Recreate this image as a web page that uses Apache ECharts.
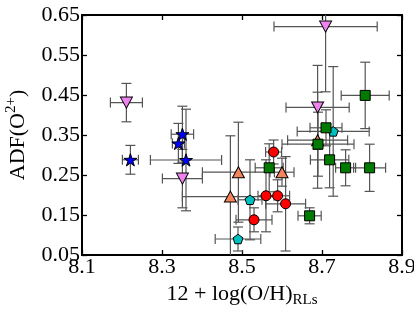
<!DOCTYPE html>
<html>
<head>
<meta charset="utf-8">
<script src="https://cdn.jsdelivr.net/npm/echarts@6/dist/echarts.min.js"></script>
<style>
html,body{margin:0;padding:0;background:#fff;}
#c{width:414px;height:311px;}
</style>
</head>
<body>
<div id="c"></div>
<script>
// ---- axis ticks ----
const xTicks = [8.1, 8.3, 8.5, 8.7, 8.9];
const yTicks = [0.05, 0.15, 0.25, 0.35, 0.45, 0.55, 0.65];

// ---- violet down-triangles ----
const violetX = [8.211, 8.351, 8.709, 8.689];
const violetY = [0.431, 0.241, 0.621, 0.419];
const violetXErr = [0.04, 0.05, 0.129, 0.079];
const violetYErr = [0.048, 0.073, 0.163, 0.105];

// ---- blue stars ----
const starX = [8.221, 8.351, 8.341, 8.36];
const starY = [0.288, 0.352, 0.329, 0.2875];
const starXErr = [0.02, 0.028, 0.015, 0.089];
const starYErr = [0.036, 0.07, 0.05, 0.127];

// ---- orange up-triangles ----
const orangeX = [8.491, 8.471, 8.60, 8.689];
const orangeY = [0.257, 0.196, 0.257, 0.337];
const orangeXErr = [0.09, 0.12, 0.03, 0.075];
const orangeYErr = [0.125, 0.152, 0.035, 0.12];

// ---- red circles ----
const redX = [8.579, 8.56, 8.589, 8.609, 8.53];
const redY = [0.3075, 0.198, 0.198, 0.178, 0.138];
const redXErr = [0.02, 0.02, 0.03, 0.05, 0.045];
const redYErr = [0.03, 0.09, 0.04, 0.118, 0.03];

// ---- cyan pentagons ----
const cyanX = [8.52, 8.49, 8.728];
const cyanY = [0.188, 0.09, 0.359];
const cyanXErr = [0.03, 0.057, 0.09];
const cyanYErr = [0.1, 0.03, 0.162];

// ---- green squares ----
const greenX = [8.568, 8.71, 8.69, 8.719, 8.759, 8.819, 8.808, 8.669];
const greenY = [0.268, 0.368, 0.327, 0.288, 0.268, 0.268, 0.449, 0.148];
const greenXErr = [0.035, 0.04, 0.09, 0.048, 0.025, 0.04, 0.06, 0.029];
const greenYErr = [0.06, 0.045, 0.08, 0.07, 0.045, 0.059, 0.083, 0.02];

const STAR = 'path://M0,-1 L0.2245,-0.309 L0.951,-0.309 L0.363,0.118 L0.588,0.809 L0,0.382 L-0.588,0.809 L-0.363,0.118 L-0.951,-0.309 L-0.2245,-0.309 Z';
const PENT = 'path://M0,-1 L0.951,-0.309 L0.588,0.809 L-0.588,0.809 L-0.951,-0.309 Z';

const groups = [
  {name:'violet', x:violetX, y:violetY, xe:violetXErr, ye:violetYErr, symbol:'triangle', rot:180, size:[12,11], color:'#ee82ee'},
  {name:'star', x:starX, y:starY, xe:starXErr, ye:starYErr, symbol:STAR, rot:0, size:[13,13], color:'#0000ff'},
  {name:'orange', x:orangeX, y:orangeY, xe:orangeXErr, ye:orangeYErr, symbol:'triangle', rot:0, size:[12,11], color:'#f4845c'},
  {name:'red', x:redX, y:redY, xe:redXErr, ye:redYErr, symbol:'circle', rot:0, size:10, color:'#ff0000'},
  {name:'cyan', x:cyanX, y:cyanY, xe:cyanXErr, ye:cyanYErr, symbol:PENT, rot:0, size:[10,10], color:'#00bfbf'},
  {name:'green', x:greenX, y:greenY, xe:greenXErr, ye:greenYErr, symbol:'rect', rot:0, size:10, color:'#007a00'}
];

const series = [];
const CAP = 5;
groups.forEach(function(g){
  const errData = g.x.map(function(v,i){ return [v, g.y[i], g.xe[i], g.ye[i]]; });
  series.push({
    type:'custom',
    name:g.name+'-err',
    xAxisIndex:0, yAxisIndex:0,
    clip:true,
    z:1,
    silent:true,
    data:errData,
    encode:{x:0, y:1},
    renderItem:function(params, api){
      const x = api.value(0), y = api.value(1), xe = api.value(2), ye = api.value(3);
      const l = api.coord([x-xe, y]), r = api.coord([x+xe, y]);
      const t = api.coord([x, y+ye]), b = api.coord([x, y-ye]);
      const st = {stroke:'#555', lineWidth:1.2};
      return {type:'group', children:[
        {type:'line', shape:{x1:l[0], y1:l[1], x2:r[0], y2:r[1]}, style:st},
        {type:'line', shape:{x1:l[0], y1:l[1]-CAP, x2:l[0], y2:l[1]+CAP}, style:st},
        {type:'line', shape:{x1:r[0], y1:r[1]-CAP, x2:r[0], y2:r[1]+CAP}, style:st},
        {type:'line', shape:{x1:t[0], y1:t[1], x2:b[0], y2:b[1]}, style:st},
        {type:'line', shape:{x1:t[0]-CAP, y1:t[1], x2:t[0]+CAP, y2:t[1]}, style:st},
        {type:'line', shape:{x1:b[0]-CAP, y1:b[1], x2:b[0]+CAP, y2:b[1]}, style:st}
      ]};
    }
  });
});
groups.forEach(function(g){
  series.push({
    type:'scatter',
    name:g.name,
    xAxisIndex:0, yAxisIndex:0,
    z:5,
    symbol:g.symbol,
    symbolRotate:g.rot,
    symbolSize:g.size,
    symbolKeepAspect:true,
    data:g.x.map(function(v,i){ return [v, g.y[i]]; }),
    itemStyle:{color:g.color, borderColor:'#000', borderWidth:1, opacity:1},
    emphasis:{disabled:true}
  });
});

const FONT = 'Liberation Serif';
const tickStyle = {show:true, inside:true, length:5, lineStyle:{color:'#000', width:1.3}};
const lineStyle = {show:true, onZero:false, lineStyle:{color:'#000', width:2}};

const option = {
  animation:false,
  backgroundColor:'#fff',
  grid:{left:82, top:15, right:12, bottom:56, containLabel:false, outerBoundsMode:'none'},
  xAxis:[
    {type:'value', position:'bottom', min:xTicks[0], max:xTicks[xTicks.length-1], interval:0.2,
     axisLine:lineStyle, axisTick:tickStyle, splitLine:{show:false},
     axisLabel:{show:true, margin:1, color:'#000', fontFamily:FONT, fontSize:22,
       formatter:function(v){ return v.toFixed(1); }},
     name:'{n|12 + log(O/H)}{s|RLs}', nameLocation:'middle', nameGap:25,
     nameTextStyle:{color:'#000', fontFamily:FONT, fontSize:22,
       rich:{n:{fontFamily:FONT, fontSize:22, color:'#000', lineHeight:28},
             s:{fontFamily:FONT, fontSize:15, color:'#000', lineHeight:14, verticalAlign:'bottom'}}}
    },
    {type:'value', position:'top', min:xTicks[0], max:xTicks[xTicks.length-1], interval:0.2,
     axisLine:lineStyle, axisTick:tickStyle, axisLabel:{show:false}, splitLine:{show:false}}
  ],
  yAxis:[
    {type:'value', position:'left', min:yTicks[0], max:yTicks[yTicks.length-1], interval:0.1,
     axisLine:lineStyle, axisTick:tickStyle, splitLine:{show:false},
     axisLabel:{show:true, margin:2, color:'#000', fontFamily:FONT, fontSize:22,
       formatter:function(v){ return v.toFixed(2); }},
     name:'{n|ADF(O}{p|2+}{n|)}', nameLocation:'middle', nameRotate:90, nameGap:50,
     nameTextStyle:{color:'#000', fontFamily:FONT, fontSize:22,
       rich:{n:{fontFamily:FONT, fontSize:22, color:'#000', lineHeight:28},
             p:{fontFamily:FONT, fontSize:15, color:'#000', lineHeight:14, verticalAlign:'top'}}}
    },
    {type:'value', position:'right', min:yTicks[0], max:yTicks[yTicks.length-1], interval:0.1,
     axisLine:lineStyle, axisTick:tickStyle, axisLabel:{show:false}, splitLine:{show:false}}
  ],
  series:series
};

const chart = echarts.init(document.getElementById('c'), null, {renderer:'canvas'});
chart.setOption(option);
</script>
</body>
</html>
